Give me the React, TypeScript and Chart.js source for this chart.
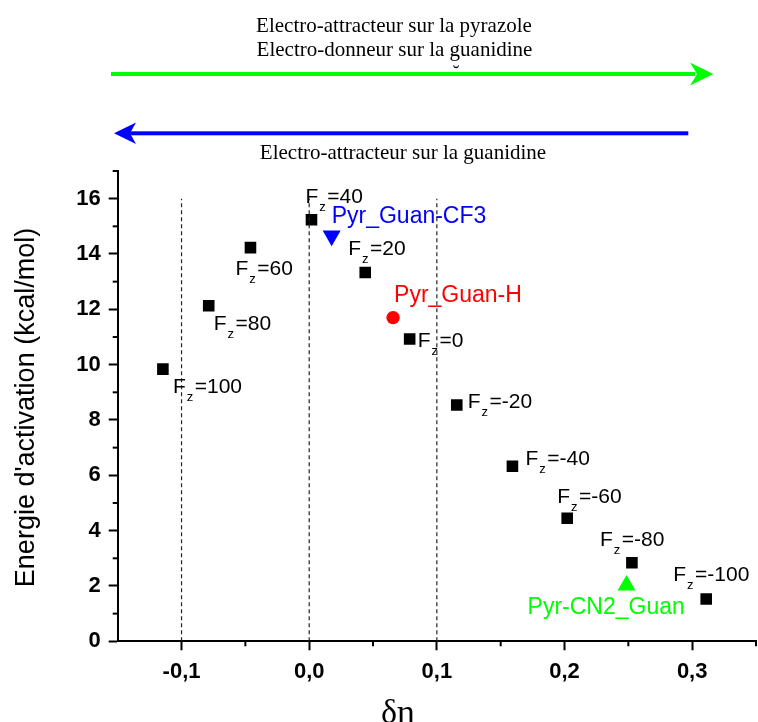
import React, { useEffect, useRef } from 'react';
import { Chart, registerables } from 'chart.js';

Chart.register(...registerables);

// ---- data ----
const fzLabels = ['100', '80', '60', '40', '20', '0', '-20', '-40', '-60', '-80', '-100'];
const fzDeltaEta = [-0.1146, -0.0787, -0.046, 0.0018, 0.0439, 0.0787, 0.1156, 0.1592, 0.2021, 0.2528, 0.311];
const fzEnergy = [9.84, 12.13, 14.23, 15.24, 13.33, 10.93, 8.54, 6.33, 4.45, 2.84, 1.53];

const specialNames = ['Pyr_Guan-CF3', 'Pyr_Guan-H', 'Pyr-CN2_Guan'];
const specialDeltaEta = [0.0176, 0.0657, 0.2486];
const specialEnergy = [14.66, 11.7, 2.02];

const xTicks = [-0.1, 0, 0.1, 0.2, 0.3];
const xMinorTicks = [-0.05, 0.05, 0.15, 0.25, 0.35];
const yTicks = [0, 2, 4, 6, 8, 10, 12, 14, 16];
const yMinorTicks = [1, 3, 5, 7, 9, 11, 13, 15, 17];
const guideX = [-0.1, 0, 0.1];
const guideYRange = [0, 16];

const topLine1 = 'Electro-attracteur sur la pyrazole';
const topLine2 = 'Electro-donneur sur la guanidine';
const bottomLine = 'Electro-attracteur sur la guanidine';
const yTitle = "Energie d'activation (kcal/mol)";
const xTitle = 'δη';

// ---- styles ----
const specialColors = ['#0000FF', '#FF0000', '#00FF00'];
const specialStyles = ['triangle', 'circle', 'triangle'];
const specialRotations = [180, 0, 0];
const specialRadii = [10.4, 6.7, 10.4];
const fzLabelOffsets = [[10, 24], [5, 24], [-15, 27], [-6, -17], [-17, -18], [8, 8], [11, 3], [13, -1], [-10, -15], [-32, -17], [-33, -18]];
const specialLabelOffsets = [[0, -12.5], [1, -16], [-99, 29]];

const SANS = '"Liberation Sans", Arial, sans-serif';
const SERIF = '"Liberation Serif", "Times New Roman", serif';

const fmtX = (v: number) => (Math.abs(v) < 1e-9 ? '0,0' : v.toFixed(1).replace('.', ','));

const annotPlugin = {
  id: 'annot',
  afterDraw(chart: any) {
    const ctx = chart.ctx as CanvasRenderingContext2D;
    const xs = chart.scales.x;
    const ys = chart.scales.y;
    const { left, bottom } = chart.chartArea;
    ctx.save();
    // minor ticks
    ctx.strokeStyle = '#000';
    ctx.lineWidth = 2;
    xMinorTicks.forEach((v) => {
      const px = xs.getPixelForValue(v);
      ctx.beginPath();
      ctx.moveTo(px, bottom);
      ctx.lineTo(px, bottom + 5);
      ctx.stroke();
    });
    yMinorTicks.forEach((v) => {
      const py = ys.getPixelForValue(v);
      ctx.beginPath();
      ctx.moveTo(left, py);
      ctx.lineTo(left - 5, py);
      ctx.stroke();
    });

    // Fz labels
    ctx.fillStyle = '#000';
    ctx.textAlign = 'left';
    ctx.textBaseline = 'alphabetic';
    fzLabels.forEach((lab, i) => {
      const px = xs.getPixelForValue(fzDeltaEta[i]) + fzLabelOffsets[i][0];
      const py = ys.getPixelForValue(fzEnergy[i]) + fzLabelOffsets[i][1];
      ctx.font = `21px ${SANS}`;
      ctx.fillText('F', px, py);
      const fw = ctx.measureText('F').width;
      ctx.font = `13px ${SANS}`;
      ctx.fillText('z', px + fw + 1, py + 8);
      const zw = ctx.measureText('z').width;
      ctx.font = `21px ${SANS}`;
      ctx.fillText('=' + lab, px + fw + zw + 2.5, py);
    });

    // special labels
    ctx.font = `23px ${SANS}`;
    specialNames.forEach((name, i) => {
      ctx.fillStyle = specialColors[i];
      const px = xs.getPixelForValue(specialDeltaEta[i]) + specialLabelOffsets[i][0];
      const py = ys.getPixelForValue(specialEnergy[i]) + specialLabelOffsets[i][1];
      ctx.fillText(name, px, py);
    });

    // top texts
    ctx.fillStyle = '#000';
    ctx.textAlign = 'center';
    ctx.font = `21px ${SERIF}`;
    ctx.fillText(topLine1, 394, 31.7);
    ctx.fillText(topLine2, 394.5, 56);
    ctx.fillText(bottomLine, 403, 159.3);
    ctx.font = `20px ${SERIF}`;
    ctx.fillText('˘', 456, 80);

    // green arrow
    ctx.fillStyle = '#00FF00';
    ctx.fillRect(111, 72, 584, 4);
    ctx.beginPath();
    ctx.moveTo(713.3, 74);
    ctx.lineTo(690, 62.5);
    ctx.lineTo(697, 74);
    ctx.lineTo(690, 85.5);
    ctx.closePath();
    ctx.fill();

    // blue arrow
    ctx.fillStyle = '#0000FF';
    ctx.fillRect(130, 131.3, 558.3, 4);
    ctx.beginPath();
    ctx.moveTo(114, 133.3);
    ctx.lineTo(136, 122.5);
    ctx.lineTo(130, 133.3);
    ctx.lineTo(136, 144);
    ctx.closePath();
    ctx.fill();

    // axis titles
    ctx.fillStyle = '#000';
    ctx.font = `27px ${SANS}`;
    ctx.save();
    ctx.translate(34, 407.5);
    ctx.rotate(-Math.PI / 2);
    ctx.textAlign = 'center';
    ctx.fillText(yTitle, 0, 0);
    ctx.restore();
    ctx.font = `34px ${SERIF}`;
    ctx.textAlign = 'center';
    ctx.fillText(xTitle, 398, 723);

    ctx.restore();
  },
};

export default function App() {
  const ref = useRef<HTMLCanvasElement | null>(null);

  useEffect(() => {
    if (!ref.current) return;
    const datasets: any[] = [];
    guideX.forEach((gx) => {
      datasets.push({
        data: guideYRange.map((y) => ({ x: gx, y })),
        showLine: true,
        borderColor: '#222',
        borderWidth: 1.2,
        borderDash: [4, 3],
        pointRadius: 0,
        fill: false,
      });
    });
    datasets.push({
      data: fzDeltaEta.map((x, i) => ({ x, y: fzEnergy[i] })),
      pointStyle: 'rect',
      pointRadius: 8.2,
      backgroundColor: '#000',
      borderWidth: 0,
    });
    specialNames.forEach((_, i) => {
      datasets.push({
        data: [{ x: specialDeltaEta[i], y: specialEnergy[i] }],
        pointStyle: specialStyles[i],
        rotation: specialRotations[i],
        pointRadius: specialRadii[i],
        backgroundColor: specialColors[i],
        borderWidth: 0,
      });
    });

    const chart = new Chart(ref.current, {
      type: 'scatter',
      data: { datasets },
      options: {
        animation: false,
        responsive: false,
        devicePixelRatio: 1,
        layout: { autoPadding: false, padding: { top: 171, right: 2, left: 0, bottom: 0 } },
        plugins: { legend: { display: false }, tooltip: { enabled: false } },
        scales: {
          x: {
            type: 'linear',
            min: -0.15,
            max: 0.35,
            afterBuildTicks: (s: any) => {
              s.ticks = xTicks.map((v) => ({ value: v }));
            },
            afterFit: (s: any) => {
              s.height = 80.7;
              s.paddingLeft = 0;
              s.paddingRight = 0;
            },
            grid: { drawOnChartArea: false, drawTicks: true, tickLength: 9, tickWidth: 2, tickColor: '#000' },
            border: { display: true, color: '#000', width: 2 },
            ticks: {
              color: '#000',
              padding: 8,
              maxRotation: 0,
              autoSkip: false,
              font: { family: SANS, size: 22, weight: 'bold' },
              callback: (v: any) => fmtX(Number(v)),
            },
          },
          y: {
            type: 'linear',
            min: 0,
            max: 17,
            afterBuildTicks: (s: any) => {
              s.ticks = yTicks.map((v) => ({ value: v }));
            },
            afterFit: (s: any) => {
              s.width = 117.7;
              s.paddingTop = 0;
              s.paddingBottom = 0;
            },
            grid: { drawOnChartArea: false, drawTicks: true, tickLength: 9, tickWidth: 2, tickColor: '#000' },
            border: { display: true, color: '#000', width: 2 },
            ticks: {
              color: '#000',
              padding: 8,
              autoSkip: false,
              font: { family: SANS, size: 22, weight: 'bold' },
              callback: (v: any) => String(v),
            },
          },
        },
      },
      plugins: [annotPlugin],
    } as any);
    return () => chart.destroy();
  }, []);

  return (
    <div style={{ position: 'absolute', left: 0, top: 0, width: 758, height: 722, background: '#fff' }}>
      <canvas ref={ref} width={758} height={722} style={{ display: 'block', width: 758, height: 722 }} />
    </div>
  );
}
